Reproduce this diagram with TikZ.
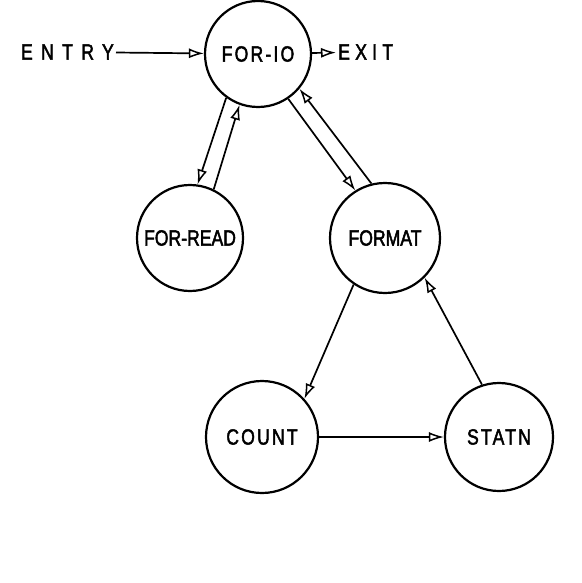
\documentclass[tikz,border=0pt]{standalone}
\usepackage{fontspec}
\setmainfont{Liberation Sans}[FakeStretch=0.8,FakeBold=2]
\newfontfamily\entryfam{Liberation Sans}[FakeStretch=0.8,FakeBold=2,LetterSpace=38]
\newfontfamily\exitfam{Liberation Sans}[FakeStretch=0.8,FakeBold=2,LetterSpace=24]
\newfontfamily\iofam{Liberation Sans}[FakeStretch=0.8,FakeBold=2,LetterSpace=10]
\newfontfamily\stfam{Liberation Sans}[FakeStretch=0.8,FakeBold=2,LetterSpace=10]
\usetikzlibrary{arrows.meta}
\begin{document}
\begin{tikzpicture}[x=1pt,y=-1pt,
  state/.style={circle,draw,line width=2.2pt,minimum size=106pt,inner sep=0pt,font=\fontsize{22}{22}\selectfont},
  conn/.style={line width=1.7pt,-{Latex[open,length=15pt,width=10pt,line width=1.5pt]}},
  lbl/.style={inner sep=2pt,font=\fontsize{22}{22}\selectfont}]
\useasboundingbox (0,0) rectangle (581,583);
\node[state] (io) at (258,54) {\iofam FOR-IO};
\node[state] (rd) at (190,238) {FOR-READ};
\node[state,minimum size=110pt] (fm) at (385,238) {FORMAT};
\node[state,minimum size=112pt] (ct) at (262,437) {\stfam COUNT};
\node[state,minimum size=108pt] (st) at (499,437) {\stfam STATN};
\node[lbl,anchor=east] (entry) at (116,52) {\entryfam ENTRY};
\node[lbl,anchor=west] (exit) at (336,52) {\exitfam EXIT};
\draw[conn] (entry) -- (io);
\draw[conn] (io) -- (exit);
\draw[conn] (io.234) -- (rd.82);
\draw[conn] (rd.64) -- (io.250);
\draw[conn] (io.304) -- (fm.122);
\draw[conn] (fm.104) -- (io.320);
\draw[conn] (fm.236) -- (ct.42);
\draw[conn] (st.108) -- (fm.315);
\draw[conn] (ct) -- (st);
\end{tikzpicture}
\end{document}
